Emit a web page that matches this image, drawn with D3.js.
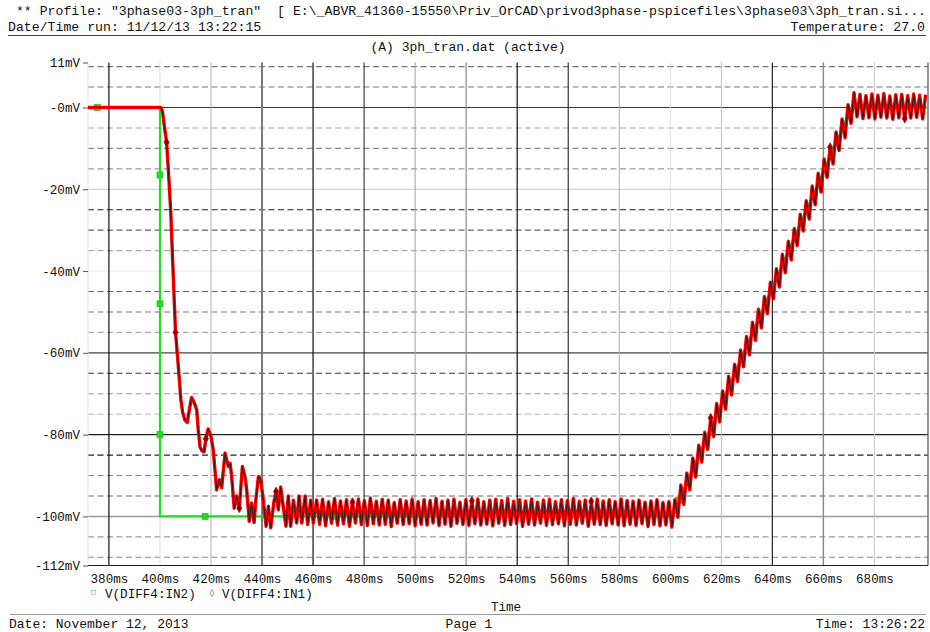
<!DOCTYPE html>
<html>
<head>
<meta charset="utf-8">
<script src="https://cdn.jsdelivr.net/npm/d3@7"></script>
<style>
  html, body { margin: 0; padding: 0; background: #fff; }
  svg { display: block; }
  text { font-family: "Courier New", "Liberation Mono", monospace; fill: #111; white-space: pre; }
</style>
</head>
<body>
<svg id="chart" width="930" height="632"></svg>
<script>
// ---------------- DATA ----------------
const headerLine1 = ' ** Profile: "3phase03-3ph_tran"  [ E:\\_ABVR_41360-15550\\Priv_OrCAD\\privod3phase-pspicefiles\\3phase03\\3ph_tran.si...';
const headerRun = "Date/Time run: 11/12/13 13:22:15";
const headerTemp = "Temperature: 27.0";
const plotTitle = "(A) 3ph_tran.dat (active)";
const footerDate = "Date: November 12, 2013";
const footerPage = "Page 1";
const footerTime = "Time: 13:26:22";
const xTitle = "Time";

const xDomain = [371.8, 701];
const yDomain = [-112, 11];
const xTicks = [380, 400, 420, 440, 460, 480, 500, 520, 540, 560, 580, 600, 620, 640, 660, 680];
const yTicks = [11, 0, -20, -40, -60, -80, -100, -112];
const yTickLabels = ["11mV", "-0mV", "-20mV", "-40mV", "-60mV", "-80mV", "-100mV", "-112mV"];
const yMajorGrid = [0, -20, -40, -60, -80, -100];
const yMinorGrid = [10, 5, -5, -10, -15, -25, -30, -35, -45, -50, -55, -65, -70, -75, -85, -90, -95, -105, -110];

const seriesNames = ["V(DIFF4:IN2)", "V(DIFF4:IN1)"];

// V(DIFF4:IN2): reference step / ramp (time ms, mV)
const in2Time = [371.8, 400, 400, 600.5, 671, 701];
const in2Val  = [0, 0, -100, -100, 0, 0];
const in2MarkTime = [375.5, 400, 400, 400, 417.7, 468.6, 519.5, 570.4, 603.3, 649];
const in2MarkVal  = [0, -16.5, -48, -80, -100, -100, -100, -100, -96, -31.2];

// V(DIFF4:IN1): response, first irregular part (time ms, mV)
const in1EarlyTime = [371.8, 400.4, 401.0, 401.6, 402.6, 403.2, 404.2, 405.2, 406.1, 407.2, 408.2, 408.9,
  409.8, 410.7, 411.5, 412.4, 413.3, 414.4, 415.0, 415.7, 416.5, 417.3, 418.0, 418.9, 420.0, 420.9,
  422.2, 423.3, 424.2, 425.5, 426.8, 427.5, 428.1, 429.1, 430.0, 431.1, 432.3, 433.3, 434.0, 435.0,
  435.9, 436.9, 437.6, 438.6, 439.5, 440.5, 441.6, 442.5, 443.4, 444.7, 445.5, 446.4, 447.3, 448.4,
  449.4, 450.3, 451.2, 452.3, 453.6, 454.5, 455.6, 456.9, 457.9, 459.1, 460.1];
const in1EarlyVal = [0, 0, -1, -4, -8.5, -14.4, -25, -41, -55, -63.3, -71.5, -74.6,
  -76.5, -77, -74, -70.9, -72, -73.9, -78.8, -83, -84, -84.2, -81, -78.6, -80.5, -83.7,
  -93.5, -91, -93, -84.5, -87.8, -87, -90.2, -98, -95, -98, -87.8, -90.2, -93.5, -101.2,
  -96.7, -101.5, -95.9, -90.2, -91, -96, -102.4, -97.5, -102.8, -96.3, -93.9, -98.4, -92.8, -98,
  -102.4, -95, -102.4, -96, -101.6, -95, -101.6, -95, -102, -96, -101.6];

// V(DIFF4:IN1): sampled part, every 1.17 ms starting at 461.4 ms (mV)
const in1SampleStart = 461.4;
const in1SampleStep = 1.17;
const in1Samples = [
  -96.0, -101.9, -95.8, -102.3, -96.4, -101.7, -95.6, -102.1, -96.2, -101.8,
  -95.9, -102.4, -96.5, -101.6, -95.7, -102.0, -96.1, -102.2, -95.5, -101.8,
  -96.3, -102.1, -95.8, -101.9, -96.0, -102.5, -96.6, -101.7, -95.9, -102.0,
  -96.2, -101.8, -95.7, -102.3, -96.4, -101.9, -95.9, -102.1, -96.1, -101.6,
  -95.6, -102.2, -96.3, -101.9, -96.0, -102.4, -95.8, -101.7, -96.5, -102.0,
  -95.9, -102.2, -96.2, -101.8, -95.7, -102.1, -96.4, -101.9, -96.0, -102.3,
  -95.8, -101.7, -96.1, -102.2, -95.6, -102.0, -96.3, -101.8, -95.9, -102.4,
  -96.2, -101.9, -95.7, -102.1, -96.5, -101.7, -96.0, -102.2, -95.8, -102.0,
  -96.4, -101.8, -95.9, -102.3, -96.1, -101.9, -95.6, -102.1, -96.3, -101.7,
  -96.0, -102.4, -96.6, -101.9, -95.8, -102.0, -96.2, -102.2, -95.9, -101.8,
  -96.4, -102.1, -95.7, -102.3, -96.1, -101.9, -96.3, -102.2, -96.0, -101.8,
  -96.5, -102.5, -96.2, -102.0, -95.9, -102.3, -96.6, -102.1, -96.4, -102.6,
  // ramp
  -95.9, -100.2, -92.3, -97.1, -89.4, -93.5, -85.7, -90.4, -82.6, -86.7,
  -79.4, -83.6, -75.9, -80.5, -72.4, -76.9, -69.3, -73.8, -65.7, -70.3,
  -62.8, -67.0, -59.3, -63.4, -56.0, -60.5, -52.5, -57.0, -49.3, -53.9,
  -46.2, -50.4, -42.7, -46.8, -39.4, -43.9, -35.9, -40.4, -32.7, -37.3,
  -29.6, -33.8, -26.1, -30.2, -22.8, -27.3, -19.2, -23.8, -16.1, -20.7,
  -12.6, -17.1, -9.7, -13.8, -6.0, -10.5, -2.8, -7.4, 0.7, -3.9,
  // settled
  3.6, -2.3, 3.2, -2.7, 2.9, -2.5, 3.3, -2.8, 3.0, -2.4,
  3.4, -2.6, 2.8, -2.9, 3.1, -2.5, 3.2, -2.7, 2.9, -2.6,
  3.3, -2.4, 3.0, -2.8, 3.1
];
const in1MarkTime = [402.6, 406.1, 418.0, 431.1, 445.5, 475.44, 522.24, 569.04, 615.84, 662.64, 691.89];
const in1MarkVal  = [-8.5, -55, -81, -98, -93.9, -96.5, -96.2, -96.3, -75.9, -9.7, -2.7];

// ---------------- STYLE ----------------
const styleYMajor = {"0": ["#333", 1], "-20": ["#c8c8c8", 1.2], "-40": ["#ececec", 1], "-60": ["#444", 1.2], "-80": ["#222", 1.2], "-100": ["#9a9a9a", 1.4]};
const styleYMinor = {"10": "#777", "5": "#777", "-5": "#aaa", "-10": "#888", "-15": "#999", "-25": "#222",
  "-30": "#666", "-35": "#aaa", "-45": "#666", "-50": "#777", "-55": "#aaa", "-65": "#333", "-70": "#999",
  "-75": "#bbb", "-85": "#222", "-90": "#888", "-95": "#666", "-105": "#999", "-110": "#888"};
const styleX = {"380": ["#111", 1.2], "400": ["#ddd", 1], "420": ["#b0b0b0", 1], "440": ["#7a7a7a", 2],
  "460": ["#111", 1.2], "480": ["#333", 1.1], "500": ["#a0a0a0", 1], "520": ["#8a8a8a", 1.2],
  "540": ["#111", 1.2], "560": ["#222", 1.1], "580": ["#aaa", 1], "600": ["#ddd", 1],
  "620": ["#c0c0c0", 1], "640": ["#222", 1.2], "660": ["#888", 1.4], "680": ["#c8c8c8", 1]};

// ---------------- DRAW ----------------
const svg = d3.select("#chart");
const plot = {left: 88, right: 928, top: 62.5, bottom: 565.5};
const x = d3.scaleLinear().domain(xDomain).range([plot.left, plot.right]);
const y = d3.scaleLinear().domain(yDomain).range([plot.bottom, plot.top]);

// header
svg.append("text").attr("x", 8).attr("y", 14.5).attr("font-size", 13.2).text(headerLine1);
svg.append("text").attr("x", 8).attr("y", 31).attr("font-size", 13.2).text(headerRun);
svg.append("text").attr("x", 925).attr("y", 31).attr("font-size", 13.2).attr("text-anchor", "end").text(headerTemp);
svg.append("line").attr("x1", 8).attr("x2", 926).attr("y1", 35.5).attr("y2", 35.5).attr("stroke", "#444").attr("stroke-width", 1);
svg.append("text").attr("x", 468).attr("y", 51).attr("font-size", 13).attr("text-anchor", "middle").text(plotTitle);

// grid
const g = svg.append("g");
g.selectAll("line.ymin").data(yMinorGrid).join("line").attr("class", "ymin")
  .attr("x1", plot.left).attr("x2", plot.right).attr("y1", d => y(d)).attr("y2", d => y(d))
  .attr("stroke", d => styleYMinor[String(d)]).attr("stroke-width", 1.1).attr("stroke-dasharray", "6,3.5");
g.selectAll("line.ymaj").data(yMajorGrid).join("line").attr("class", "ymaj")
  .attr("x1", plot.left).attr("x2", plot.right).attr("y1", d => y(d)).attr("y2", d => y(d))
  .attr("stroke", d => styleYMajor[String(d)][0]).attr("stroke-width", d => styleYMajor[String(d)][1]);
g.selectAll("line.xg").data(xTicks).join("line").attr("class", "xg")
  .attr("x1", d => x(d)).attr("x2", d => x(d)).attr("y1", plot.top).attr("y2", plot.bottom)
  .attr("stroke", d => styleX[String(d)][0]).attr("stroke-width", d => styleX[String(d)][1]);

// frame
svg.append("line").attr("x1", plot.left).attr("x2", plot.left).attr("y1", plot.top).attr("y2", plot.bottom).attr("stroke", "#e4e4e4");
svg.append("line").attr("x1", plot.right).attr("x2", plot.right).attr("y1", plot.top).attr("y2", plot.bottom).attr("stroke", "#666").attr("stroke-width", 1.4);
svg.append("line").attr("x1", plot.left).attr("x2", plot.right).attr("y1", plot.bottom).attr("y2", plot.bottom).attr("stroke", "#222").attr("stroke-width", 1.2);

// axes
const yAxis = d3.axisLeft(y).tickValues(yTicks).tickSize(5).tickPadding(3)
  .tickFormat((d, i) => yTickLabels[i]);
const ya = svg.append("g").attr("transform", `translate(${plot.left},0)`).call(yAxis);
ya.select(".domain").remove();
ya.selectAll(".tick line").attr("stroke", "#555");
ya.selectAll("text").attr("font-size", 12.6).attr("font-family", '"Courier New", "Liberation Mono", monospace').attr("fill", "#111");

const xAxis = d3.axisBottom(x).tickValues(xTicks).tickSize(0).tickPadding(9).tickFormat(d => d + "ms");
const xa = svg.append("g").attr("transform", `translate(0,${plot.bottom})`).call(xAxis);
xa.select(".domain").remove();
xa.selectAll("text").attr("font-size", 12.6).attr("font-family", '"Courier New", "Liberation Mono", monospace').attr("fill", "#111");

// series data
const in2 = in2Time.map((t, i) => [t, in2Val[i]]);
const in1 = in1EarlyTime.map((t, i) => [t, in1EarlyVal[i]])
  .concat(in1Samples.map((v, i) => [in1SampleStart + i * in1SampleStep, v]));

const clip = svg.append("clipPath").attr("id", "clip").append("rect")
  .attr("x", plot.left).attr("y", plot.top - 2).attr("width", plot.right - plot.left).attr("height", plot.bottom - plot.top + 2);
const lines = svg.append("g").attr("clip-path", "url(#clip)");
const line = d3.line().x(d => x(d[0])).y(d => y(d[1]));

lines.append("path").datum(in2).attr("d", line).attr("fill", "none").attr("stroke", "#22dd22").attr("stroke-width", 2.2);
lines.selectAll("rect.m2").data(in2MarkTime.map((t, i) => [t, in2MarkVal[i]])).join("rect").attr("class", "m2")
  .attr("x", d => x(d[0]) - 3).attr("y", d => y(d[1]) - 3).attr("width", 6).attr("height", 6)
  .attr("fill", "#22dd22").attr("stroke", "#11bb11").attr("stroke-width", 0.6);

lines.append("path").datum(in1).attr("d", line).attr("fill", "none").attr("stroke", "#ff0000")
  .attr("stroke-width", 3.4).attr("stroke-linejoin", "round");
lines.append("path").datum(in1).attr("d", line).attr("fill", "none").attr("stroke", "#1a1a1a")
  .attr("stroke-width", 0.9).attr("stroke-linejoin", "round");
const diamond = d3.symbol().type(d3.symbolDiamond).size(22);
lines.selectAll("path.m1").data(in1MarkTime.map((t, i) => [t, in1MarkVal[i]])).join("path").attr("class", "m1")
  .attr("transform", d => `translate(${x(d[0])},${y(d[1])})`).attr("d", diamond)
  .attr("fill", "#880000").attr("stroke", "#cc0000").attr("stroke-width", 0.8);

// legend
const lg = svg.append("g");
lg.append("rect").attr("x", 91.5).attr("y", 590.5).attr("width", 4).attr("height", 4).attr("fill", "none").attr("stroke", "#7de87d").attr("stroke-width", 0.8);
lg.append("text").attr("x", 105).attr("y", 597.5).attr("font-size", 12.6).text(seriesNames[0]);
lg.append("path").attr("transform", "translate(212,593)").attr("d", d3.symbol().type(d3.symbolDiamond).size(14))
  .attr("fill", "none").attr("stroke", "#e06060").attr("stroke-width", 0.8);
lg.append("text").attr("x", 222).attr("y", 597.5).attr("font-size", 12.6).text(seriesNames[1]);

// x title and footer
svg.append("text").attr("x", 506).attr("y", 611).attr("font-size", 12.6).attr("text-anchor", "middle").text(xTitle);
svg.append("line").attr("x1", 10).attr("x2", 926).attr("y1", 614.5).attr("y2", 614.5).attr("stroke", "#999").attr("stroke-width", 1);
svg.append("text").attr("x", 9).attr("y", 627.5).attr("font-size", 13).text(footerDate);
svg.append("text").attr("x", 469).attr("y", 627.5).attr("font-size", 13).attr("text-anchor", "middle").text(footerPage);
svg.append("text").attr("x", 925).attr("y", 627.5).attr("font-size", 13).attr("text-anchor", "end").text(footerTime);
</script>
</body>
</html>
